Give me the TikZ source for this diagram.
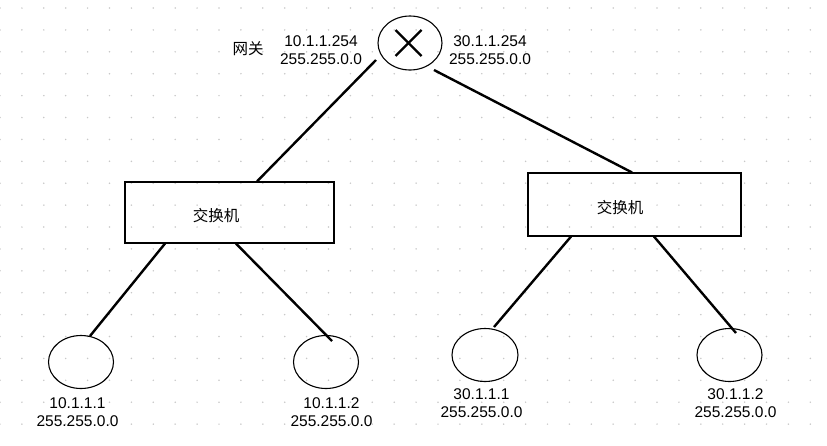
\documentclass[tikz,border=0pt]{standalone}
\usepackage{fontspec}
\setmainfont{Liberation Sans}
\newfontfamily\cjk{Noto Sans CJK SC}
\usetikzlibrary{shapes,calc}
\definecolor{griddot}{HTML}{C8C8C8}

\begin{document}
\begin{tikzpicture}[x=1pt, y=-1pt,
  gate/.style={ellipse, draw, line width=1.1pt, minimum width=64pt, minimum height=54pt, inner sep=0pt},
  host/.style={ellipse, draw, line width=1.1pt, minimum width=65pt, minimum height=53pt, inner sep=0pt},
  sw/.style={rectangle, draw, line width=1.1pt, minimum width=209pt, minimum height=61pt, inner sep=0pt},
  addr/.style={align=center, inner sep=0pt, font=\fontsize{15.5}{18}\selectfont},
  lbl/.style={inner sep=0pt, font=\fontsize{15.5}{18}\selectfont\cjk},
  wire/.style={line width=2.4pt}
]
  \useasboundingbox (0,0) rectangle (827,445);
  \foreach \i in {0,...,37}{\foreach \j in {0,...,19}{\fill[griddot] (21.9*\i, 8+21.9*\j) circle (0.85pt);}}

  \node[gate] (gw) at (410,43) {};
  \node[sw] (sw1) at (229.5,212.5) {};
  \node[sw, minimum width=213pt, minimum height=63pt] (sw2) at (634.5,204.5) {};
  \node[host] (h1) at (81,362) {};
  \node[host] (h2) at (326,362) {};
  \node[host, minimum width=66pt] (h3) at (485,355) {};
  \node[host] (h4) at (729.5,355) {};

  \node[lbl] (gwname) at (248,49) {网关};
  \node[addr] (gwleft) at (321,50) {10.1.1.254\\255.255.0.0};
  \node[addr] (gwright) at (490,50) {30.1.1.254\\255.255.0.0};
  \node[lbl] (sw1name) at (216,216) {交换机};
  \node[lbl] (sw2name) at (620,208) {交换机};
  \node[addr] (h1addr) at (77.5,412) {10.1.1.1\\255.255.0.0};
  \node[addr] (h2addr) at (331.5,412) {10.1.1.2\\255.255.0.0};
  \node[addr] (h3addr) at (481.5,403.5) {30.1.1.1\\255.255.0.0};
  \node[addr] (h4addr) at (735.5,403.5) {30.1.1.2\\255.255.0.0};

  \draw[wire] ($(gw.center)+(-14.5,-13)$) -- ($(gw.center)+(11.5,13)$);
  \draw[wire] ($(gw.center)+(11.5,-13)$) -- ($(gw.center)+(-14.5,13)$);
  \draw[wire] ($(gw.center)+(-34,17)$) -- ($(sw1.north)+(27.5,0)$);
  \draw[wire] ($(gw.center)+(24,27)$) -- ($(sw2.north)+(-2.5,0)$);
  \draw[wire] ($(sw1.south)+(-64.5,0)$) -- ($(h1.center)+(9,-26)$);
  \draw[wire] ($(sw1.south)+(6.5,0)$) -- ($(h2.center)+(6,-21)$);
  \draw[wire] ($(sw2.south)+(-63.5,0)$) -- ($(h3.center)+(9,-28)$);
  \draw[wire] ($(sw2.south)+(19.5,0)$) -- ($(h4.center)+(6.5,-22)$);
\end{tikzpicture}
\end{document}
